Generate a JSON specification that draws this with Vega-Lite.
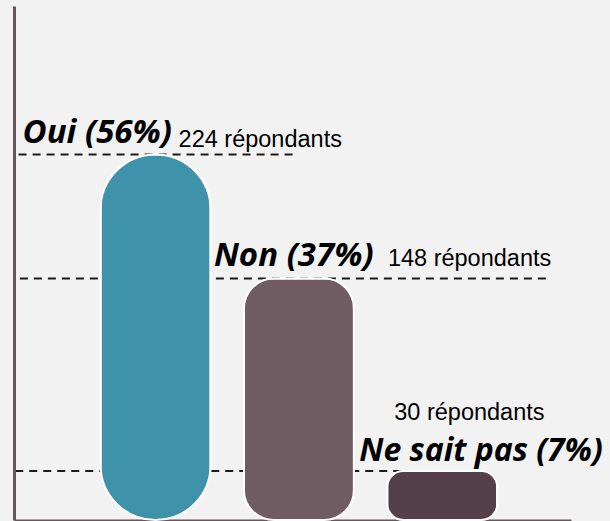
{
  "$schema": "https://vega.github.io/schema/vega-lite/v6.json",
  "width": 557,
  "height": 514,
  "autosize": "none",
  "padding": {"left": 14, "top": 6, "right": 39, "bottom": 1},
  "background": "#f2f2f2",
  "config": {"view": {"stroke": null}},
  "data": {
    "values": [
      {"categorie": "Oui", "repondants": 224, "libelle": "Oui (56%)", "detail": "224 répondants"},
      {"categorie": "Non", "repondants": 148, "libelle": "Non (37%)", "detail": "148 répondants"},
      {"categorie": "Ne sait pas", "repondants": 30, "libelle": "Ne sait pas (7%)", "detail": "30 répondants"}
    ]
  },
  "encoding": {
    "x": {
      "field": "categorie",
      "type": "nominal",
      "scale": {"domain": ["Oui", "Non", "Ne sait pas"], "paddingInner": 0.2326, "paddingOuter": 0.5593, "align": 0.54},
      "axis": {"title": null, "labels": false, "ticks": false, "grid": false, "domainColor": "#6b565e", "domainWidth": 2}
    },
    "y": {
      "field": "repondants",
      "type": "quantitative",
      "scale": {"domain": [0, 315]},
      "axis": {"title": null, "labels": false, "ticks": false, "grid": false, "domainColor": "#6b565e", "domainWidth": 3}
    }
  },
  "layer": [
    {
      "transform": [{"filter": "datum.categorie === 'Oui'"}],
      "mark": {"type": "rule", "strokeDash": [8, 6], "strokeWidth": 2, "color": "#1a1a1a", "xOffset": 137},
      "encoding": {"x2": {"value": 2}}
    },
    {
      "transform": [{"filter": "datum.categorie === 'Non'"}],
      "mark": {"type": "rule", "strokeDash": [8, 6], "strokeWidth": 2, "color": "#1a1a1a", "xOffset": 247},
      "encoding": {"x2": {"value": 2}}
    },
    {
      "transform": [{"filter": "datum.categorie === 'Ne sait pas'"}],
      "mark": {"type": "rule", "strokeDash": [8, 6], "strokeWidth": 2, "color": "#1a1a1a", "xOffset": 1},
      "encoding": {"x2": {"value": 2}}
    },
    {
      "transform": [{"filter": "datum.categorie === 'Oui'"}],
      "mark": {"type": "bar", "cornerRadius": 55, "stroke": "white", "strokeWidth": 2},
      "encoding": {
        "color": {"field": "categorie", "type": "nominal", "legend": null,
          "scale": {"domain": ["Oui", "Non", "Ne sait pas"], "range": ["#3e93ab", "#725c63", "#55404a"]}}
      }
    },
    {
      "transform": [{"filter": "datum.categorie === 'Non'"}],
      "mark": {"type": "bar", "cornerRadius": 30, "stroke": "white", "strokeWidth": 2},
      "encoding": {
        "color": {"field": "categorie", "type": "nominal", "legend": null,
          "scale": {"domain": ["Oui", "Non", "Ne sait pas"], "range": ["#3e93ab", "#725c63", "#55404a"]}}
      }
    },
    {
      "transform": [{"filter": "datum.categorie === 'Ne sait pas'"}],
      "mark": {"type": "bar", "cornerRadius": 16, "stroke": "white", "strokeWidth": 2},
      "encoding": {
        "color": {"field": "categorie", "type": "nominal", "legend": null,
          "scale": {"domain": ["Oui", "Non", "Ne sait pas"], "range": ["#3e93ab", "#725c63", "#55404a"]}}
      }
    },
    {
      "transform": [{"filter": "datum.categorie === 'Oui'"}],
      "mark": {"type": "text", "align": "left", "baseline": "alphabetic", "dx": -133, "dy": -11, "font": "Open Sans", "fontWeight": "bold", "fontStyle": "italic", "fontSize": 33, "color": "#000000"},
      "encoding": {"text": {"field": "libelle"}}
    },
    {
      "transform": [{"filter": "datum.categorie === 'Oui'"}],
      "mark": {"type": "text", "align": "left", "baseline": "alphabetic", "dx": 23, "dy": -7, "font": "Liberation Sans", "fontSize": 23.5, "color": "#000000"},
      "encoding": {"text": {"field": "detail"}}
    },
    {
      "transform": [{"filter": "datum.categorie === 'Non'"}],
      "mark": {"type": "text", "align": "left", "baseline": "alphabetic", "dx": -85, "dy": -13, "font": "Open Sans", "fontWeight": "bold", "fontStyle": "italic", "fontSize": 33, "color": "#000000"},
      "encoding": {"text": {"field": "libelle"}}
    },
    {
      "transform": [{"filter": "datum.categorie === 'Non'"}],
      "mark": {"type": "text", "align": "left", "baseline": "alphabetic", "dx": 89, "dy": -13, "font": "Liberation Sans", "fontSize": 23.5, "color": "#000000"},
      "encoding": {"text": {"field": "detail"}}
    },
    {
      "transform": [{"filter": "datum.categorie === 'Ne sait pas'"}],
      "mark": {"type": "text", "align": "left", "baseline": "alphabetic", "dx": -83, "dy": -10, "font": "Open Sans", "fontWeight": "bold", "fontStyle": "italic", "fontSize": 32, "color": "#000000"},
      "encoding": {"text": {"field": "libelle"}}
    },
    {
      "transform": [{"filter": "datum.categorie === 'Ne sait pas'"}],
      "mark": {"type": "text", "align": "left", "baseline": "alphabetic", "dx": -48, "dy": -51, "font": "Liberation Sans", "fontSize": 23.5, "color": "#000000"},
      "encoding": {"text": {"field": "detail"}}
    }
  ]
}
